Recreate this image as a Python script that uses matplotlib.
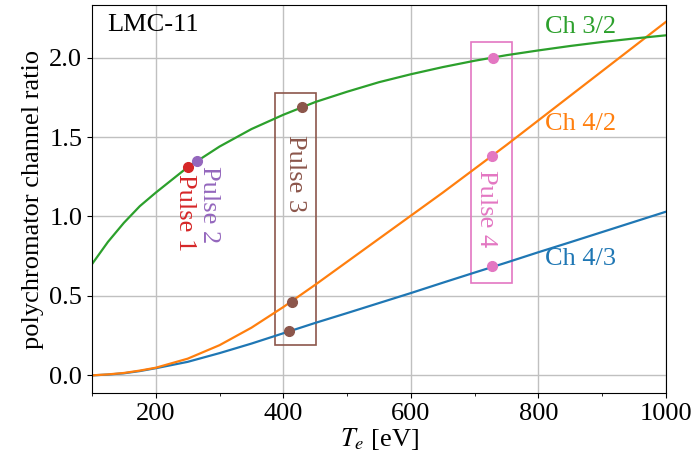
import matplotlib.pyplot as plt
from matplotlib.patches import Rectangle

plt.rcParams['font.family'] = ['Liberation Serif', 'DejaVu Serif']
plt.rcParams['mathtext.fontset'] = 'stix'

# Ratio curves
te = [100, 125, 150, 175, 200, 250, 300, 350, 400, 450, 500, 550, 600,
      650, 700, 750, 800, 850, 900, 950, 1000]
ch32 = [0.70, 0.84, 0.96, 1.065, 1.15, 1.31, 1.44, 1.55, 1.64, 1.72, 1.785, 1.845, 1.895,
        1.94, 1.98, 2.015, 2.045, 2.073, 2.098, 2.12, 2.14]
ch42 = [0.0, 0.006, 0.015, 0.03, 0.048, 0.105, 0.19, 0.30, 0.43, 0.57, 0.715, 0.86, 1.005,
        1.15, 1.30, 1.45, 1.605, 1.76, 1.915, 2.07, 2.225]
ch43 = [0.0, 0.005, 0.013, 0.027, 0.045, 0.085, 0.14, 0.20, 0.265, 0.33, 0.392, 0.455, 0.518,
        0.583, 0.647, 0.71, 0.775, 0.838, 0.902, 0.966, 1.03]

# Measured pulses: (Te, ratio)
pulse1 = ([251], [1.31])
pulse2 = ([264], [1.35])
pulse3 = ([430, 413, 409], [1.69, 0.46, 0.28])
pulse4 = ([729, 727, 727], [2.00, 1.38, 0.69])

fig = plt.figure(figsize=(6.97, 4.66), dpi=100)
ax = fig.add_axes([0.132, 0.157, 0.8235, 0.832])

ax.plot(te, ch43, color='tab:blue', linewidth=1.6)
ax.plot(te, ch42, color='tab:orange', linewidth=1.6)
ax.plot(te, ch32, color='tab:green', linewidth=1.6)

ms = 7
ax.plot(*pulse1, 'o', color='tab:red', markersize=ms)
ax.plot(*pulse2, 'o', color='tab:purple', markersize=ms)
ax.plot(*pulse3, 'o', color='tab:brown', markersize=ms)
ax.plot(*pulse4, 'o', color='tab:pink', markersize=ms)

ax.add_patch(Rectangle((387, 0.19), 64, 1.59, fill=False, edgecolor='tab:brown', linewidth=1.2))
ax.add_patch(Rectangle((694, 0.58), 65, 1.52, fill=False, edgecolor='tab:pink', linewidth=1.2))

fs = 19
ax.text(0.026, 0.95, 'LMC-11', transform=ax.transAxes, fontsize=fs, va='center', ha='left')
ax.text(810, 2.19, 'Ch 3/2', color='tab:green', fontsize=fs, va='center')
ax.text(810, 1.58, 'Ch 4/2', color='tab:orange', fontsize=fs, va='center')
ax.text(810, 0.73, 'Ch 4/3', color='tab:blue', fontsize=fs, va='center')

ax.text(246, 1.27, 'Pulse 1', color='tab:red', fontsize=fs, rotation=270, ha='center', va='top')
ax.text(283, 1.32, 'Pulse 2', color='tab:purple', fontsize=fs, rotation=270, ha='center', va='top')
ax.text(419, 1.51, 'Pulse 3', color='tab:brown', fontsize=fs, rotation=270, ha='center', va='top')
ax.text(718, 1.29, 'Pulse 4', color='tab:pink', fontsize=fs, rotation=270, ha='center', va='top')

ax.set_xlim(100, 1000)
ax.set_ylim(-0.11, 2.33)
ax.set_xticks([200, 400, 600, 800, 1000])
ax.set_xticks([100, 300, 500, 700, 900], minor=True)
ax.set_yticks([0.0, 0.5, 1.0, 1.5, 2.0])
ax.tick_params(labelsize=fs)
ax.grid(True, color='#c0c0c0', linewidth=1.0)
ax.set_axisbelow(True)

ax.set_xlabel(r'$T_e$ [eV]', fontsize=fs, labelpad=1)
ax.set_ylabel('polychromator channel ratio', fontsize=fs, labelpad=4)

fig.savefig('out.png', dpi=100)
